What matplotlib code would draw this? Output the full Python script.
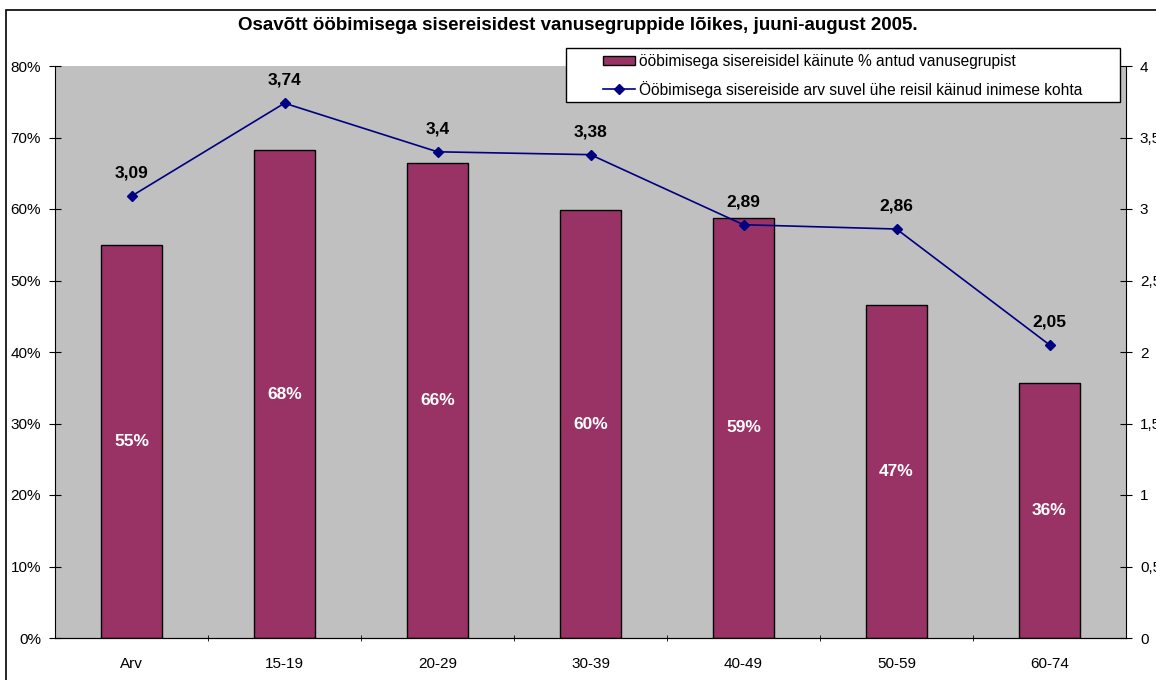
import matplotlib.pyplot as plt
from matplotlib.patches import Rectangle
from matplotlib.ticker import FuncFormatter

plt.rcParams['font.family'] = ['Liberation Sans', 'DejaVu Sans']

categories = ['Arv', '15-19', '20-29', '30-39', '40-49', '50-59', '60-74']
bar_values = [54.9, 68.2, 66.4, 59.8, 58.8, 46.6, 35.7]
bar_labels = ['55%', '68%', '66%', '60%', '59%', '47%', '36%']
line_values = [3.09, 3.74, 3.4, 3.38, 2.89, 2.86, 2.05]
line_labels = ['3,09', '3,74', '3,4', '3,38', '2,89', '2,86', '2,05']

W, H = 1156, 680
fig = plt.figure(figsize=(11.56, 6.8), dpi=100)
ax = fig.add_axes([55 / W, 1 - 638 / H, (1126 - 55) / W, (638 - 66) / H])
ax.set_facecolor('#C0C0C0')

x = list(range(len(categories)))
bars = ax.bar(x, bar_values, width=0.4, color='#993366', edgecolor='black', linewidth=1,
              label='ööbimisega sisereisidel käinute % antud vanusegrupist', zorder=2)
ax.set_xlim(-0.5, len(categories) - 0.5)
ax.set_ylim(0, 80)
ax.set_yticks(range(0, 81, 10))
ax.yaxis.set_major_formatter(FuncFormatter(lambda v, p: f'{int(v)}%'))
ax.set_xticks(x)
ax.set_xticklabels(categories)
ax.set_xticks([i + 0.5 for i in x[:-1]], minor=True)
ax.tick_params(axis='x', which='major', length=0, pad=14)
ax.tick_params(axis='x', which='minor', length=5, direction='inout')
ax.tick_params(axis='y', length=8, direction='inout', pad=6)
ax.tick_params(labelsize=11)
for s in ['top', 'right']:
    ax.spines[s].set_visible(False)

for b, lab in zip(bars, bar_labels):
    ax.text(b.get_x() + b.get_width() / 2, b.get_height() / 2, lab, color='white',
            fontsize=12.5, fontweight='bold', ha='center', va='center', zorder=3)

ax2 = ax.twinx()
ax2.plot(x, line_values, color='#000080', marker='D', markersize=5, linewidth=1.2,
         label='Ööbimisega sisereiside arv suvel ühe reisil käinud inimese kohta', zorder=4)
ax2.set_ylim(0, 4)
ax2.set_yticks([0, 0.5, 1, 1.5, 2, 2.5, 3, 3.5, 4])
ax2.set_yticklabels(['0', '0,5', '1', '1,5', '2', '2,5', '3', '3,5', '4'])
ax2.tick_params(axis='y', length=8, direction='inout', pad=6, labelsize=11)
for s in ['top', 'left']:
    ax2.spines[s].set_visible(False)

for xi, v, lab in zip(x, line_values, line_labels):
    ax2.annotate(lab, (xi, v), xytext=(0, 11), textcoords='offset points',
                 ha='center', va='bottom', fontsize=12.5, fontweight='bold')

fig.text(0.5, 1 - 25 / H, 'Osavõtt ööbimisega sisereisidest vanusegruppide lõikes, juuni-august 2005.',
         ha='center', va='center', fontsize=13.5, fontweight='bold')

# legend box drawn by hand (Excel style padding)
box = Rectangle((566 / W, 1 - 102 / H), (1120 - 566) / W, 54 / H, transform=fig.transFigure,
                facecolor='white', edgecolor='black', linewidth=1, clip_on=False, zorder=6)
ax2.add_artist(box)

h1, l1 = ax.get_legend_handles_labels()
h2, l2 = ax2.get_legend_handles_labels()
leg = ax2.legend(h1 + h2, l1 + l2, loc='upper left', bbox_to_anchor=(603 / W, 1 - 54 / H),
                 bbox_transform=fig.transFigure, fontsize=11.2, frameon=False,
                 borderpad=0, handlelength=2.05, handleheight=0.6,
                 handletextpad=0.25, labelspacing=0.75, borderaxespad=0)
leg.set_zorder(7)

fig.patches.append(Rectangle((6 / W, -0.05), 1.1, 1 - 10 / H + 0.05,
                             transform=fig.transFigure, fill=False, edgecolor='black',
                             linewidth=1.2, clip_on=False))

fig.savefig('out.png', dpi=100)
